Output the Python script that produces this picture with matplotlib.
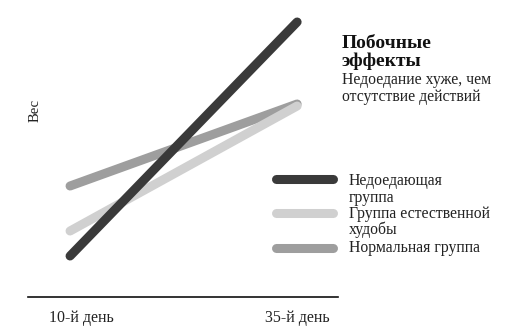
import matplotlib
matplotlib.use("Agg")
import matplotlib.pyplot as plt
from matplotlib.lines import Line2D
from matplotlib.transforms import ScaledTranslation

plt.rcParams['font.family'] = ['Liberation Serif', 'DejaVu Serif']

days = [10, 35]
day_labels = ["10-й день", "35-й день"]
series_names = [["Недоедающая", "группа"], ["Группа естественной", "худобы"], ["Нормальная группа"]]
undereating = [41, 275]
natural_thin = [66, 191]
normal = [111, 193]
colors = ["#3a3a3a", "#d0d0d0", "#9e9e9e"]

W, H = 528, 332
fig = plt.figure(figsize=(W / 100, H / 100), dpi=100)
ax = fig.add_axes([28 / W, (H - 297) / H, (338 - 28) / W, 297 / H])
ax.set_xlim(5.37, 39.5)
ax.set_ylim(0, 297)

order = [(normal, colors[2]), (natural_thin, colors[1]), (undereating, colors[0])]
for vals, c in order:
    ax.plot(days, vals, color=c, lw=6.5, solid_capstyle='round', zorder=3)

for s in ["top", "right", "left"]:
    ax.spines[s].set_visible(False)
ax.spines["bottom"].set_linewidth(1.2)
ax.spines["bottom"].set_color("#111111")
ax.set_yticks([])
ax.set_xticks(days)
ax.set_xticklabels(day_labels, fontsize=11.5, color="#222222")
ax.tick_params(axis='x', length=0, pad=9)
lbls = ax.get_xticklabels()
lbls[0].set_transform(lbls[0].get_transform() + ScaledTranslation(0.11, 0, fig.dpi_scale_trans))

def px(x, y):
    return x / W, 1 - y / H

fig.text(*px(35, 110), "Вес", rotation=90, ha='center', va='center',
         fontsize=10.5, color="#222222")

fig.text(*px(342, 48.5), "Побочные", ha='left', va='baseline',
         fontsize=14, fontweight='bold', color="#111111")
fig.text(*px(342, 65.5), "эффекты", ha='left', va='baseline',
         fontsize=14, fontweight='bold', color="#111111")
fig.text(*px(342, 83.5), "Недоедание хуже, чем", ha='left', va='baseline',
         fontsize=11.3, color="#222222")
fig.text(*px(342, 101), "отсутствие действий", ha='left', va='baseline',
         fontsize=11.3, color="#222222")

leg_y = [179, 213, 248]
base_y = [[185.3, 201.5], [217.5, 234.5], [251.5]]
for name, c, yy, bys in zip(series_names, colors, leg_y, base_y):
    fig.add_artist(Line2D([276 / W, 333 / W], [1 - yy / H, 1 - yy / H],
                          transform=fig.transFigure, color=c, lw=6.5,
                          solid_capstyle='round'))
    for line, by in zip(name, bys):
        fig.text(*px(349, by), line, ha='left', va='baseline',
                 fontsize=11.3, color="#222222")

fig.savefig("out.png", dpi=100)
